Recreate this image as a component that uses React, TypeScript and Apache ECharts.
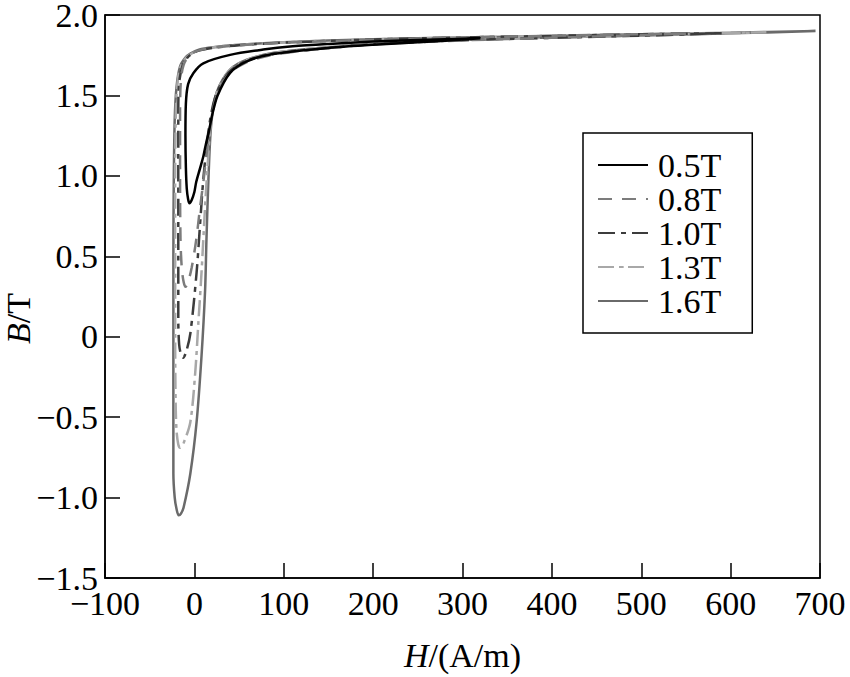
import React, { useEffect, useRef } from "react";
import * as echarts from "echarts";

const FONT = "Liberation Serif";

const seriesNames = ["0.5T", "0.8T", "1.0T", "1.3T", "1.6T"];

const xTicks = { min: -100, max: 700, interval: 100 };
const yTicks = { min: -1.5, max: 2.0, interval: 0.5 };

// [H (A/m), B (T)] traced around each loop: tip -> upper branch -> minimum -> lower branch -> tip
const loop05: number[][] = [
  [320, 1.855], [250, 1.845], [200, 1.835], [150, 1.82], [110, 1.805], [77, 1.785], [40, 1.752],
  [10, 1.7], [-1, 1.64], [-7, 1.57], [-9.5, 1.45], [-10, 1.25], [-9.5, 1.05], [-8.5, 0.92],
  [-7, 0.855], [-5.5, 0.83], [-3, 0.85], [0, 0.9], [2, 0.96], [6, 1.04], [10, 1.12], [13, 1.2],
  [16, 1.27], [20, 1.38], [26, 1.5], [40, 1.64], [58, 1.71], [85, 1.755], [150, 1.795], [200, 1.815],
  [250, 1.83], [320, 1.855],
];
const loop08: number[][] = [
  [550, 1.884], [450, 1.876], [350, 1.866], [250, 1.854], [150, 1.838], [80, 1.822], [30, 1.802],
  [5, 1.78], [-6, 1.745], [-12, 1.69], [-15, 1.6], [-16, 1.4], [-16, 1.0], [-15.5, 0.6], [-14, 0.42],
  [-12, 0.34], [-10, 0.31], [-7, 0.34], [-3, 0.43], [2, 0.6], [6.5, 0.81], [10, 0.96], [14, 1.15],
  [18, 1.32], [25, 1.5], [38, 1.63], [56, 1.7], [85, 1.75], [150, 1.795], [200, 1.817], [300, 1.842],
  [400, 1.858], [550, 1.884],
];
const loop10: number[][] = [
  [590, 1.887], [500, 1.88], [400, 1.87], [300, 1.86], [200, 1.848], [100, 1.828], [50, 1.812],
  [20, 1.795], [3, 1.775], [-7, 1.74], [-13, 1.69], [-17, 1.58], [-18, 1.4], [-18, 1.0], [-18, 0.5],
  [-18, 0.1], [-17, -0.05], [-15, -0.11], [-12.5, -0.13], [-9, -0.09], [-4.5, 0.02], [2.5, 0.4],
  [6.5, 0.71], [10, 0.98], [14, 1.2], [18, 1.36], [24, 1.5], [38, 1.64], [56, 1.71], [85, 1.755],
  [150, 1.795], [200, 1.818], [300, 1.843], [400, 1.858], [500, 1.872], [590, 1.887],
];
const loop13: number[][] = [
  [640, 1.893], [550, 1.884], [450, 1.875], [350, 1.865], [250, 1.855], [150, 1.84], [80, 1.825],
  [30, 1.805], [5, 1.78], [-6, 1.75], [-12, 1.715], [-17, 1.65], [-20, 1.5], [-21, 1.3], [-21.5, 1.0],
  [-21.5, 0.5], [-21.5, 0.0], [-21, -0.4], [-20, -0.58], [-18, -0.67], [-16, -0.69], [-12, -0.66],
  [-4.5, -0.53], [1, -0.22], [4.5, 0.09], [8, 0.4], [12, 0.81], [15, 1.08], [18, 1.3], [24, 1.5],
  [38, 1.65], [56, 1.715], [85, 1.76], [150, 1.8], [200, 1.82], [300, 1.845], [400, 1.86],
  [500, 1.873], [640, 1.893],
];
const loop16: number[][] = [
  [695, 1.9], [600, 1.89], [500, 1.88], [400, 1.87], [300, 1.86], [200, 1.85], [100, 1.83],
  [50, 1.815], [21, 1.8], [5, 1.785], [-4.5, 1.76], [-10, 1.735], [-16, 1.68], [-20, 1.55],
  [-22, 1.35], [-23, 1.0], [-23.5, 0.5], [-23.5, 0.0], [-23.5, -0.5], [-23.5, -0.85], [-22, -1.0],
  [-20, -1.07], [-17.5, -1.11], [-15, -1.1], [-12, -1.06], [-4.5, -0.85], [2.5, -0.53], [8, -0.12],
  [12, 0.29], [13.5, 0.6], [16, 1.02], [19, 1.33], [25, 1.52], [40, 1.66], [58, 1.72], [89, 1.765],
  [150, 1.8], [200, 1.82], [300, 1.845], [400, 1.86], [500, 1.873], [600, 1.886], [695, 1.9],
];

const loops = [loop05, loop08, loop10, loop13, loop16];
const colors = ["#000000", "#7c7c7c", "#3c3c3c", "#a8a8a8", "#6a6a6a"];
const dashes: (string | number[])[] = ["solid", [14, 10], [17, 6, 5, 6], [16, 5, 4, 5], "solid"];

const fmt = (v: number, digits: number) => {
  if (v === 0) return "0";
  const s = digits > 0 ? Math.abs(v).toFixed(digits) : String(Math.abs(v));
  return v < 0 ? "\u2212" + s : s;
};

export default function App() {
  const ref = useRef<HTMLDivElement>(null);
  useEffect(() => {
    if (!ref.current) return;
    const chart = echarts.init(ref.current, null, { renderer: "svg" });
    const nameStyle = {
      fontFamily: FONT,
      fontSize: 34,
      color: "#000",
      rich: { i: { fontFamily: FONT, fontSize: 34, fontStyle: "italic", color: "#000" } },
    };
    chart.setOption({
      animation: false,
      backgroundColor: "#fff",
      grid: {
        left: 105,
        right: 30,
        top: 15,
        bottom: 99,
        containLabel: false,
        outerBoundsMode: "none",
        show: true,
        borderColor: "#000",
        borderWidth: 1.5,
      },
      legend: {
        orient: "vertical",
        left: 583,
        top: 133,
        itemWidth: 50,
        itemHeight: 2,
        itemGap: 0,
        padding: [15, 31, 15, 14],
        borderColor: "#000",
        borderWidth: 1.5,
        backgroundColor: "#fff",
        data: seriesNames,
        textStyle: { fontFamily: FONT, fontSize: 34, lineHeight: 27.5, color: "#000", padding: [0, 0, 0, 5] },
      },
      xAxis: {
        type: "value",
        min: xTicks.min,
        max: xTicks.max,
        interval: xTicks.interval,
        name: "{i|H}/(A/m)",
        nameLocation: "middle",
        nameGap: 60,
        nameMoveOverlap: false,
        nameTextStyle: nameStyle,
        axisLine: { onZero: false, lineStyle: { color: "#000", width: 1.5 } },
        axisTick: { inside: true, length: 15, lineStyle: { color: "#000", width: 1.5 } },
        axisLabel: {
          margin: 8,
          fontFamily: FONT,
          fontSize: 34,
          color: "#000",
          formatter: (v: number) => fmt(v, 0),
        },
        splitLine: { show: false },
      },
      yAxis: {
        type: "value",
        min: yTicks.min,
        max: yTicks.max,
        interval: yTicks.interval,
        name: "{i|B}/T",
        nameLocation: "middle",
        nameGap: 70,
        nameMoveOverlap: false,
        nameTextStyle: { ...nameStyle, padding: [0, 44, 0, 0] },
        axisLine: { onZero: false, lineStyle: { color: "#000", width: 1.5 } },
        axisTick: { inside: true, length: 15, lineStyle: { color: "#000", width: 1.5 } },
        axisLabel: {
          margin: 7,
          fontFamily: FONT,
          fontSize: 34,
          color: "#000",
          formatter: (v: number) => fmt(v, 1),
        },
        splitLine: { show: false },
      },
      series: loops.map((d, i) => ({
        name: seriesNames[i],
        type: "line",
        data: d,
        symbol: "none",
        smooth: 0.3,
        lineStyle: { color: colors[i], width: 2.5, type: dashes[i] },
        itemStyle: { color: colors[i] },
        z: 10 - i,
      })),
    });
    return () => chart.dispose();
  }, []);
  return (
    <div
      ref={ref}
      style={{ position: "absolute", left: 0, top: 0, width: 850, height: 677, background: "#fff" }}
    />
  );
}
